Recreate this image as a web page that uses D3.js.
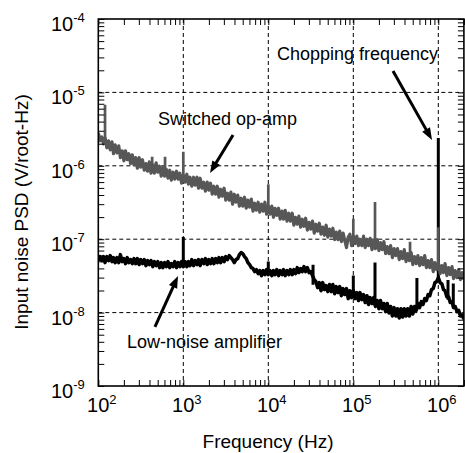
<!DOCTYPE html>
<html>
<head>
<meta charset="utf-8">
<script src="https://cdn.jsdelivr.net/npm/d3@7"></script>
<style>
  body { margin: 0; background: #fff; }
  svg { display: block; font-family: "Liberation Sans", Arial, Helvetica, sans-serif; }
</style>
</head>
<body>
<div id="chart"></div>
<script>
// frequency grid (Hz), shared by both traces
const freq = [
  100, 105, 110, 115, 120, 126, 132, 138, 145, 151, 158, 166, 174, 182, 191, 200, 209, 219, 229, 240, 251, 263, 275, 288, 302,
  316, 331, 347, 363, 380, 398, 417, 437, 457, 479, 501, 525, 550, 575, 603, 631, 661, 692, 724, 759, 794, 832, 871, 912, 955,
  1000, 1050, 1100, 1150, 1200, 1260, 1320, 1380, 1450, 1510, 1580, 1660, 1740, 1820, 1910, 2000, 2090, 2190, 2290, 2400, 2510, 2630, 2750, 2880, 3020,
  3160, 3310, 3470, 3630, 3800, 3980, 4170, 4370, 4570, 4790, 5010, 5250, 5500, 5750, 6030, 6310, 6610, 6920, 7240, 7590, 7940, 8320, 8710, 9120, 9550,
  10000, 10500, 11000, 11500, 12000, 12600, 13200, 13800, 14500, 15100, 15800, 16600, 17400, 18200, 19100, 20000, 20900, 21900, 22900, 24000, 25100, 26300, 27500, 28800, 30200,
  31600, 33100, 34700, 36300, 38000, 39800, 41700, 43700, 45700, 47900, 50100, 52500, 55000, 57500, 60300, 63100, 66100, 69200, 72400, 75900, 79400, 83200, 87100, 91200, 95500,
  100000, 105000, 110000, 115000, 120000, 126000, 132000, 138000, 145000, 151000, 158000, 166000, 174000, 182000, 191000, 200000, 209000, 219000, 229000, 240000, 251000, 263000, 275000, 288000, 302000,
  316000, 331000, 347000, 363000, 380000, 398000, 417000, 437000, 457000, 479000, 501000, 525000, 550000, 575000, 603000, 631000, 661000, 692000, 724000, 759000, 794000, 832000, 871000, 912000, 955000,
  1000000, 1050000, 1100000, 1150000, 1200000, 1260000, 1320000, 1380000, 1450000, 1510000, 1580000, 1660000, 1740000, 1820000, 1910000, 2000000
];

// switched op-amp input noise (V/root-Hz)
const switchedPsd = [
  2.82e-6, 2.19e-6, 2.48e-6, 1.99e-6, 2.41e-6, 1.76e-6, 2.19e-6, 1.65e-6, 2.12e-6, 1.46e-6,
  1.93e-6, 1.50e-6, 1.87e-6, 1.29e-6, 1.60e-6, 1.17e-6, 1.60e-6, 1.21e-6, 1.46e-6, 1.07e-6,
  1.41e-6, 1.03e-6, 1.29e-6, 9.27e-7, 1.29e-6, 9.57e-7, 1.21e-6, 8.70e-7, 1.07e-6, 8.44e-7,
  1.13e-6, 7.93e-7, 1.03e-6, 7.93e-7, 1.10e-6, 8.17e-7, 9.87e-7, 7.21e-7, 9.57e-7, 7.21e-7,
  8.99e-7, 6.77e-7, 8.70e-7, 6.36e-7, 8.17e-7, 6.57e-7, 8.44e-7, 6.57e-7, 7.93e-7, 5.79e-7,
  7.45e-7, 5.98e-7, 7.68e-7, 5.61e-7, 6.99e-7, 5.27e-7, 6.99e-7, 5.44e-7, 6.99e-7, 4.95e-7,
  6.77e-7, 4.95e-7, 5.98e-7, 4.51e-7, 5.98e-7, 4.65e-7, 5.79e-7, 4.10e-7, 5.27e-7, 4.10e-7,
  5.27e-7, 3.73e-7, 4.80e-7, 3.85e-7, 4.95e-7, 3.40e-7, 4.23e-7, 3.40e-7, 4.37e-7, 3.00e-7,
  4.10e-7, 3.19e-7, 3.98e-7, 2.82e-7, 3.62e-7, 2.82e-7, 3.73e-7, 2.64e-7, 3.40e-7, 2.73e-7,
  3.51e-7, 2.41e-7, 3.09e-7, 2.48e-7, 3.19e-7, 2.33e-7, 3.00e-7, 2.41e-7, 3.19e-7, 2.19e-7,
  2.82e-7, 2.19e-7, 2.82e-7, 1.99e-7, 2.64e-7, 2.12e-7, 2.64e-7, 1.87e-7, 2.41e-7, 1.87e-7,
  2.48e-7, 1.76e-7, 2.26e-7, 1.76e-7, 2.26e-7, 1.55e-7, 1.99e-7, 1.60e-7, 2.06e-7, 1.46e-7,
  1.87e-7, 1.50e-7, 1.93e-7, 1.33e-7, 1.70e-7, 1.37e-7, 1.76e-7, 1.21e-7, 1.60e-7, 1.29e-7,
  1.65e-7, 1.17e-7, 1.46e-7, 1.13e-7, 1.55e-7, 1.07e-7, 1.37e-7, 1.10e-7, 1.41e-7, 9.87e-8,
  1.25e-7, 9.87e-8, 1.29e-7, 9.27e-8, 1.21e-7, 9.57e-8, 7.68e-8, 1.07e-7, 1.17e-7, 8.17e-8,
  1.10e-7, 8.70e-8, 1.10e-7, 8.17e-8, 1.00e-7, 8.17e-8, 1.10e-7, 7.68e-8, 1.00e-7, 8.17e-8,
  1.03e-7, 7.21e-8, 9.57e-8, 7.45e-8, 9.87e-8, 6.99e-8, 8.99e-8, 7.21e-8, 9.27e-8, 6.36e-8,
  7.93e-8, 6.36e-8, 8.17e-8, 5.61e-8, 7.45e-8, 5.98e-8, 7.45e-8, 5.27e-8, 6.77e-8, 5.44e-8,
  7.21e-8, 4.95e-8, 6.36e-8, 5.11e-8, 6.57e-8, 4.51e-8, 5.79e-8, 4.65e-8, 5.98e-8, 4.37e-8,
  5.61e-8, 4.51e-8, 5.98e-8, 4.10e-8, 5.11e-8, 4.10e-8, 5.27e-8, 3.62e-8, 4.80e-8, 3.85e-8,
  4.80e-8, 3.40e-8, 4.37e-8, 3.51e-8, 4.65e-8, 3.19e-8, 4.10e-8, 3.29e-8, 4.23e-8, 2.91e-8,
  3.73e-8, 3.00e-8, 3.85e-8, 2.82e-8, 3.51e-8, 2.82e-8
];

// low-noise amplifier input noise (V/root-Hz)
const lnaPsd = [
  5.11e-8, 5.79e-8, 5.11e-8, 5.79e-8, 4.80e-8, 5.79e-8, 5.11e-8, 5.98e-8, 4.95e-8, 5.61e-8,
  4.80e-8, 5.61e-8, 4.80e-8, 6.17e-8, 4.95e-8, 5.44e-8, 4.65e-8, 5.61e-8, 4.80e-8, 5.27e-8,
  4.65e-8, 5.44e-8, 4.65e-8, 5.44e-8, 4.51e-8, 5.27e-8, 4.65e-8, 5.27e-8, 4.37e-8, 5.11e-8,
  4.51e-8, 5.11e-8, 4.23e-8, 4.95e-8, 4.37e-8, 4.95e-8, 4.10e-8, 4.80e-8, 4.10e-8, 4.80e-8,
  4.23e-8, 4.95e-8, 4.10e-8, 4.65e-8, 4.23e-8, 4.95e-8, 4.10e-8, 4.80e-8, 4.23e-8, 4.95e-8,
  4.23e-8, 4.95e-8, 4.23e-8, 4.95e-8, 4.37e-8, 5.27e-8, 4.37e-8, 5.11e-8, 4.51e-8, 5.27e-8,
  4.37e-8, 5.27e-8, 4.65e-8, 5.44e-8, 4.51e-8, 5.27e-8, 4.65e-8, 5.44e-8, 4.65e-8, 5.44e-8,
  4.80e-8, 5.61e-8, 4.80e-8, 5.61e-8, 4.95e-8, 5.79e-8, 5.27e-8, 5.98e-8, 5.61e-8, 5.27e-8,
  4.80e-8, 5.27e-8, 5.44e-8, 6.17e-8, 6.57e-8, 6.36e-8, 5.79e-8, 5.44e-8, 4.80e-8, 4.51e-8,
  4.10e-8, 3.98e-8, 3.62e-8, 3.85e-8, 3.40e-8, 3.73e-8, 3.19e-8, 3.73e-8, 3.29e-8, 3.85e-8,
  3.29e-8, 3.73e-8, 3.19e-8, 3.73e-8, 3.29e-8, 3.85e-8, 3.19e-8, 3.73e-8, 3.29e-8, 3.85e-8,
  3.19e-8, 3.73e-8, 3.29e-8, 3.85e-8, 3.29e-8, 3.85e-8, 3.40e-8, 4.10e-8, 3.51e-8, 3.98e-8,
  3.62e-8, 4.23e-8, 3.62e-8, 4.10e-8, 3.51e-8, 3.62e-8, 3.19e-8, 2.82e-8, 2.64e-8, 2.19e-8,
  2.56e-8, 1.99e-8, 2.56e-8, 2.06e-8, 2.33e-8, 1.93e-8, 2.41e-8, 1.93e-8, 2.41e-8, 1.81e-8,
  2.26e-8, 1.87e-8, 2.26e-8, 1.70e-8, 2.12e-8, 1.76e-8, 2.12e-8, 1.55e-8, 1.99e-8, 1.60e-8,
  1.99e-8, 1.55e-8, 1.87e-8, 1.46e-8, 1.87e-8, 1.50e-8, 1.76e-8, 1.37e-8, 1.70e-8, 1.29e-8,
  1.60e-8, 1.33e-8, 1.60e-8, 1.21e-8, 1.46e-8, 1.13e-8, 1.46e-8, 1.13e-8, 1.33e-8, 1.03e-8,
  1.33e-8, 9.87e-9, 1.21e-8, 8.99e-9, 1.17e-8, 8.99e-9, 1.13e-8, 8.44e-9, 1.13e-8, 8.70e-9,
  1.13e-8, 8.99e-9, 1.13e-8, 8.99e-9, 1.21e-8, 9.57e-9, 1.21e-8, 1.07e-8, 1.33e-8, 1.17e-8,
  1.41e-8, 1.29e-8, 1.55e-8, 1.46e-8, 1.76e-8, 1.70e-8, 2.06e-8, 2.12e-8, 2.56e-8, 2.64e-8,
  3.00e-8, 2.56e-8, 2.48e-8, 2.06e-8, 1.99e-8, 1.65e-8, 1.65e-8, 1.37e-8, 1.41e-8, 1.17e-8,
  1.21e-8, 1.03e-8, 1.07e-8, 8.99e-9, 9.27e-9, 8.17e-9
];

// narrow spectral lines (freq, floor, peak)
const switchedSpikeFreq = [120, 430, 610, 1000, 1e4, 1e5, 1.8e5, 4.65e5, 1e6];
const switchedSpikeBase = [2.2e-6, 9.3e-7, 8.1e-7, 7.0e-7, 2.6e-7, 9.7e-8, 8.6e-8, 5.5e-8, 4.1e-8];
const switchedSpikeTop = [6.8e-6, 1.33e-6, 1.33e-6, 1.55e-6, 5.6e-7, 1.9e-7, 3.2e-7, 9.2e-8, 1.46e-7];

const lnaSpikeFreq = [1000, 1e4, 3.36e4, 1e5, 1.8e5, 5.6e5, 1e6, 1.3e6, 1.5e6];
const lnaSpikeBase = [4.5e-8, 3.5e-8, 2.4e-8, 1.6e-8, 1.25e-8, 1.1e-8, 3.0e-8, 1.5e-8, 1.2e-8];
const lnaSpikeTop = [1.07e-7, 4.95e-8, 4.5e-8, 3.2e-8, 4.8e-8, 2.96e-8, 2.4e-6, 2.78e-8, 2.5e-8];

const xDecades = [1e2, 1e3, 1e4, 1e5, 1e6];
const yDecades = [1e-9, 1e-8, 1e-7, 1e-6, 1e-5, 1e-4];

// annotation arrows, tail -> tip in data units
const arrows = [
  { from: [3850, 2.63e-6], to: [2060, 7.98e-7] },
  { from: [464, 6.37e-9], to: [866, 3.15e-8] },
  { from: [2.93e5, 1.96e-5], to: [8.43e5, 2.25e-6] }
];
const notes = [
  { text: "Switched op-amp", x: 158, y: 125 },
  { text: "Chopping frequency", x: 277, y: 60 },
  { text: "Low-noise amplifier", x: 127, y: 348 }
];

var W = 465, H = 453;
var margin = { left: 98.3, top: 19 };
var width = 365.6, height = 367;

var svg = d3.select("#chart").append("svg").attr("width", W).attr("height", H);
var g = svg.append("g").attr("transform", "translate(" + margin.left + "," + margin.top + ")");

var x = d3.scaleLog().domain([100, 2e6]).range([0, width]);
var y = d3.scaleLog().domain([1e-9, 1e-4]).range([height, 0]);

// dashed decade grid
g.selectAll("line.vgrid").data(xDecades.slice(1)).enter().append("line")
  .attr("x1", (d) => x(d)).attr("x2", (d) => x(d))
  .attr("y1", 0).attr("y2", height)
  .attr("stroke", "#000").attr("stroke-width", 1).attr("stroke-dasharray", "4,3");
g.selectAll("line.hgrid").data(yDecades.slice(1, -1)).enter().append("line")
  .attr("x1", 0).attr("x2", width)
  .attr("y1", (d) => y(d)).attr("y2", (d) => y(d))
  .attr("stroke", "#000").attr("stroke-width", 1).attr("stroke-dasharray", "4,3");

g.append("clipPath").attr("id", "clip").append("rect").attr("width", width).attr("height", height);
var plot = g.append("g").attr("clip-path", "url(#clip)");

var line = d3.line().x((d) => x(d[0])).y((d) => y(d[1]));

function drawTrace(psd, sf, sb, st, color, sw) {
  plot.append("path")
    .datum(d3.zip(freq, psd))
    .attr("fill", "none")
    .attr("stroke", color)
    .attr("stroke-width", sw)
    .attr("stroke-linejoin", "round")
    .attr("d", line);
  plot.selectAll(null).data(d3.zip(sf, sb, st)).enter().append("line")
    .attr("x1", (d) => x(d[0])).attr("x2", (d) => x(d[0]))
    .attr("y1", (d) => y(d[1])).attr("y2", (d) => y(d[2]))
    .attr("stroke", color).attr("stroke-width", sw - 0.5);
}
drawTrace(lnaPsd, lnaSpikeFreq, lnaSpikeBase, lnaSpikeTop, "#000", 3.5);
drawTrace(switchedPsd, switchedSpikeFreq, switchedSpikeBase, switchedSpikeTop, "#575757", 3.2);

// inward ticks on all four sides
function ticks(axis, tr) {
  var a = g.append("g").attr("transform", tr)
    .call(axis.tickSizeInner(-6).tickSizeOuter(0).tickFormat(""));
  a.select(".domain").remove();
  a.selectAll("line").attr("stroke", "#000").attr("stroke-width", 1);
}
ticks(d3.axisBottom(x).tickValues(x.ticks()), "translate(0," + height + ")");
ticks(d3.axisTop(x).tickValues(x.ticks()), "translate(0,0)");
ticks(d3.axisLeft(y).tickValues(y.ticks()), "translate(0,0)");
ticks(d3.axisRight(y).tickValues(y.ticks()), "translate(" + width + ",0)");

g.append("rect")
  .attr("width", width).attr("height", height)
  .attr("fill", "none").attr("stroke", "#000").attr("stroke-width", 1.6);

// tick labels 10^n
var xl = svg.append("g").selectAll("text").data(xDecades).enter().append("text")
  .attr("x", (d) => margin.left + x(d) + 3.5)
  .attr("y", 412)
  .attr("text-anchor", "middle")
  .style("font-size", "20px");
xl.append("tspan").text("10");
xl.append("tspan").attr("dy", -8).style("font-size", "13px").text((d) => Math.round(Math.log10(d)));

var yl = svg.append("g").selectAll("text").data(yDecades).enter().append("text")
  .attr("x", 51)
  .attr("y", (d) => margin.top + y(d) + 12)
  .style("font-size", "20px");
yl.append("tspan").text("10");
yl.append("tspan").attr("dy", -9).style("font-size", "13px").text((d) => Math.round(Math.log10(d)));

// axis titles
svg.append("text")
  .attr("x", 268).attr("y", 448)
  .attr("text-anchor", "middle")
  .style("font-size", "19px")
  .text("Frequency (Hz)");
svg.append("text")
  .attr("transform", "translate(28,212) rotate(-90)")
  .attr("text-anchor", "middle")
  .style("font-size", "19px")
  .text("Input noise PSD (V/root-Hz)");

// annotations
svg.selectAll("text.note").data(notes).enter().append("text")
  .attr("class", "note")
  .attr("x", (d) => d.x).attr("y", (d) => d.y)
  .style("font-size", "18px")
  .text((d) => d.text);

arrows.forEach(function (a) {
  var x0 = x(a.from[0]), y0 = y(a.from[1]), x1 = x(a.to[0]), y1 = y(a.to[1]);
  var len = Math.hypot(x1 - x0, y1 - y0), ux = (x1 - x0) / len, uy = (y1 - y0) / len;
  var hl = 12, hw = 4.5;
  var bx = x1 - ux * hl, by = y1 - uy * hl;
  g.append("line")
    .attr("x1", x0).attr("y1", y0).attr("x2", bx + ux).attr("y2", by + uy)
    .attr("stroke", "#000").attr("stroke-width", 3);
  g.append("path")
    .attr("d", "M" + x1 + "," + y1 + "L" + (bx - uy * hw) + "," + (by + ux * hw) + "L" + (bx + uy * hw) + "," + (by - ux * hw) + "Z")
    .attr("fill", "#000");
});
</script>
</body>
</html>
